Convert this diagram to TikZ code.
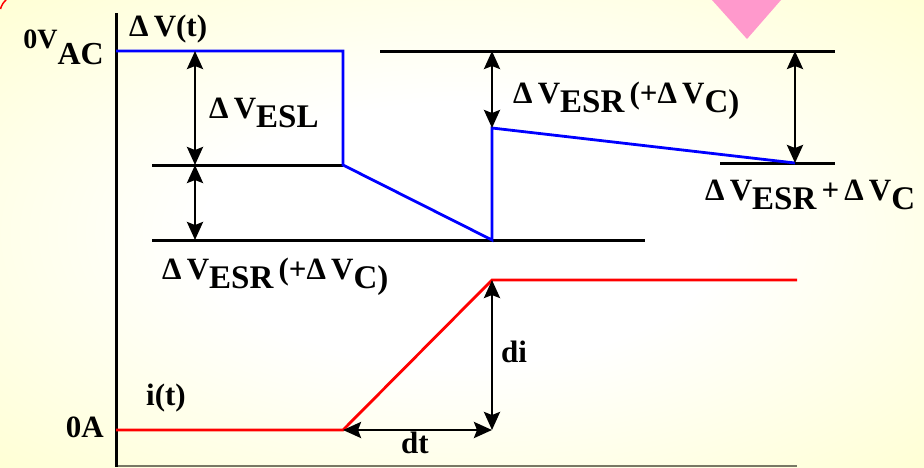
\documentclass[tikz,border=0pt]{standalone}
\usepackage{fontspec}
\setmainfont{Liberation Serif}
\usetikzlibrary{arrows.meta}
\definecolor{bgyellow}{RGB}{255,255,204}
\definecolor{wblue}{RGB}{0,0,255}
\definecolor{wred}{RGB}{255,0,0}
\definecolor{pinktri}{RGB}{255,153,204}
\definecolor{axgray}{RGB}{120,120,100}
\pgfdeclareradialshading{glow}{\pgfpoint{0bp}{0bp}}{color(0bp)=(white); color(14bp)=(white); color(40bp)=(bgyellow); color(50bp)=(bgyellow)}
\newcommand{\lo}[1]{\raisebox{-9pt}{\fontsize{33}{33}\selectfont #1}}

\begin{document}
\begin{tikzpicture}[x=1pt, y=-1pt,
    lbl/.style={inner sep=0pt, font=\fontsize{31}{33}\selectfont\bfseries},
    dim/.style={line width=2.8pt, {Stealth[length=18pt,width=16pt,inset=3pt]}-{Stealth[length=18pt,width=16pt,inset=3pt]}}]
    \useasboundingbox (0,0) rectangle (924,467);
    \shade[shading=glow] (0,0) rectangle (924,467);
    \draw[wred, line width=1.5pt] (0.5,9) to[bend left=15] (6,0);
    \fill[pinktri] (712,0) -- (781,0) -- (747,39) -- cycle;

    \coordinate (axtop) at (116,13);
    \coordinate (axbot) at (116,467);
    \coordinate (v0) at (116,51);
    \coordinate (v1) at (343,51);
    \coordinate (v2) at (343,165);
    \coordinate (v3) at (492,240);
    \coordinate (v4) at (492,128);
    \coordinate (v5) at (795,163);
    \coordinate (i0) at (116,430);
    \coordinate (i1) at (343,430);
    \coordinate (i2) at (492,280);
    \coordinate (i3) at (797,280);
    \coordinate (i4) at (492,430);
    \coordinate (l1) at (152,165);
    \coordinate (l2a) at (152,240);
    \coordinate (l2b) at (645,240);
    \coordinate (l3a) at (380,51);
    \coordinate (l3b) at (835,51);
    \coordinate (l4a) at (720,163);
    \coordinate (l4b) at (835,163);
    \coordinate (esltop) at (195,51);
    \coordinate (eslbot) at (195,165);
    \coordinate (esrbot) at (195,240);
    \coordinate (esrtop) at (492,51);
    \coordinate (sumtop) at (795,51);
    \coordinate (gray0) at (116,466);
    \coordinate (gray1) at (797,466);

    \draw[axgray, line width=2pt] (gray0) -- (gray1);
    \draw[line width=3pt] (axtop) -- (axbot);
    \draw[line width=3pt] (l1) -- (v2);
    \draw[line width=3pt] (l2a) -- (l2b);
    \draw[line width=3pt] (l3a) -- (l3b);
    \draw[line width=3pt] (l4a) -- (l4b);
    \draw[wblue, line width=2.8pt] (v0) -- (v1) -- (v2) -- (v3) -- (v4) -- (v5);
    \draw[wred, line width=2.8pt] (i0) -- (i1) -- (i2) -- (i3);

    \draw[dim] (esltop) -- (eslbot);
    \draw[dim] (eslbot) -- (esrbot);
    \draw[dim] (esrtop) -- (v4);
    \draw[dim] (sumtop) -- (v5);
    \draw[dim] (i2) -- (i4);
    \draw[dim] (i1) -- (i4);

    \node[lbl, anchor=base east] (vac) at (104,48) {\fontsize{28}{30}\selectfont 0V\raisebox{-16pt}{\fontsize{32}{32}\selectfont AC}};
    \node[lbl, anchor=base west] (vt) at (129,36) {Δ\,V(t)};
    \node[lbl, anchor=base west] (esl) at (209,118) {Δ\,V\lo{ESL}};
    \node[lbl, anchor=base west] (esrlow) at (162,279) {Δ\,V\lo{ESR}\,(+Δ\,V\lo{C)}};
    \node[lbl, anchor=base west] (esrhigh) at (513,103) {Δ\,V\lo{ESR}\,(+Δ\,V\lo{C)}};
    \node[lbl, anchor=base west] (esrsum) at (705,200) {Δ\,V\lo{ESR}\,+\,Δ\,V\lo{C}};
    \node[lbl, anchor=base west] (it) at (146,405) {i(t)};
    \node[lbl, anchor=base east] (zeroa) at (104,437) {0A};
    \node[lbl, anchor=base west] (dt) at (401,453) {dt};
    \node[lbl, anchor=base west] (di) at (501,362) {di};
\end{tikzpicture}
\end{document}
